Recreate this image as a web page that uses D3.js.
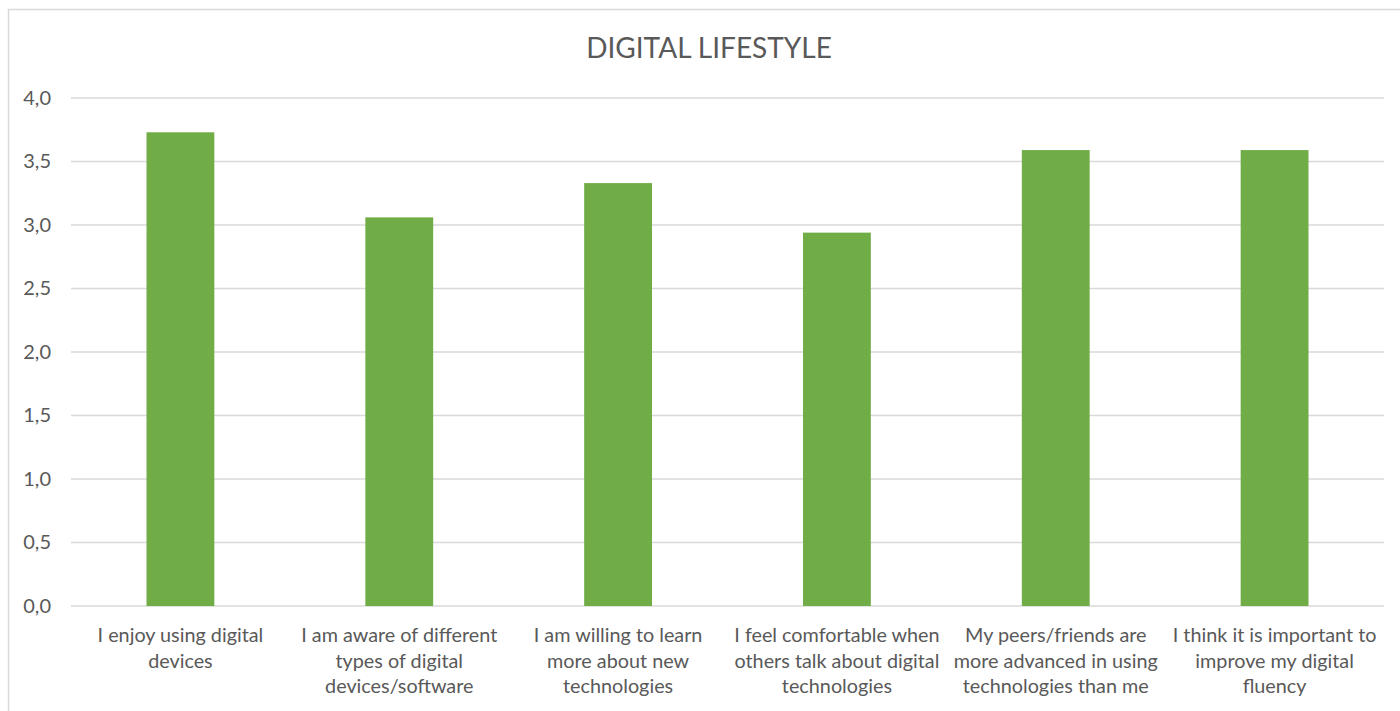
<!DOCTYPE html>
<html>
<head>
<meta charset="utf-8">
<script src="https://cdn.jsdelivr.net/npm/d3@7"></script>
<style>
  html, body { margin: 0; padding: 0; background: #fff; }
  svg { display: block; font-family: Lato, "Open Sans", sans-serif; }
</style>
</head>
<body>
<svg id="chart" width="1400" height="711"></svg>
<script>
// Survey statements (line breaks as shown under each bar)
const categories = [
  "I enjoy using digital\ndevices",
  "I am aware of different\ntypes of digital\ndevices/software",
  "I am willing to learn\nmore about new\ntechnologies",
  "I feel comfortable when\nothers talk about digital\ntechnologies",
  "My peers/friends are\nmore advanced in using\ntechnologies than me",
  "I think it is important to\nimprove my digital\nfluency"
];
// Mean agreement scores
const values = [3.73, 3.06, 3.33, 2.94, 3.59, 3.59];
// Value axis ticks
const yTicks = [0, 0.5, 1.0, 1.5, 2.0, 2.5, 3.0, 3.5, 4.0];
const chartTitle = "DIGITAL LIFESTYLE";

const svg = d3.select("#chart");
const margin = { top: 98, right: 16, bottom: 105, left: 71 };
const W = 1400, H = 711;
const font = "Lato, 'Open Sans', sans-serif";

// Chart frame
svg.append("rect")
  .attr("x", 8.5).attr("y", 9.5)
  .attr("width", 1400).attr("height", 720)
  .attr("fill", "#fff").attr("stroke", "#d9d9d9").attr("stroke-width", 1.5);

const x = d3.scaleBand()
  .domain(categories)
  .range([margin.left, W - margin.right])
  .paddingInner(0.69)
  .paddingOuter(0.345);

const y = d3.scaleLinear()
  .domain([0, 4])
  .range([H - margin.bottom, margin.top]);

// Gridlines
svg.append("g")
  .selectAll("line")
  .data(yTicks)
  .join("line")
  .attr("x1", margin.left).attr("x2", W - margin.right)
  .attr("y1", d => y(d)).attr("y2", d => y(d))
  .attr("stroke", "#d9d9d9").attr("stroke-width", 1.5);

// Y axis labels
const fmt = d => d3.format(".1f")(d).replace(".", ",");
const yAxis = d3.axisLeft(y).tickValues(yTicks).tickFormat(fmt).tickSize(0).tickPadding(20);
const gy = svg.append("g").attr("transform", `translate(${margin.left},0)`).call(yAxis);
gy.select(".domain").remove();
gy.selectAll("text")
  .attr("fill", "#595959")
  .style("font-size", "20px")
  .style("font-family", font);

// Bars
svg.append("g")
  .selectAll("rect")
  .data(values)
  .join("rect")
  .attr("x", (d, i) => x(categories[i]))
  .attr("width", x.bandwidth())
  .attr("y", d => y(d))
  .attr("height", d => y(0) - y(d))
  .attr("fill", "#70ad47");

// Category labels
const xAxis = d3.axisBottom(x).tickSize(0).tickFormat("");
const gx = svg.append("g").attr("transform", `translate(0,${y(0)})`).call(xAxis);
gx.select(".domain").remove();
gx.selectAll(".tick").each(function(d) {
  const t = d3.select(this).append("text")
    .attr("text-anchor", "middle")
    .attr("fill", "#595959")
    .style("font-size", "19.8px")
    .style("font-family", font);
  d.split("\n").forEach((line, k) => {
    t.append("tspan").attr("x", 0).attr("y", 36 + k * 25.5).text(line);
  });
});

// Title
svg.append("text")
  .attr("x", 709).attr("y", 58)
  .attr("text-anchor", "middle")
  .attr("fill", "#595959")
  .style("font-size", "28px")
  .style("font-family", font)
  .text(chartTitle);
</script>
</body>
</html>
